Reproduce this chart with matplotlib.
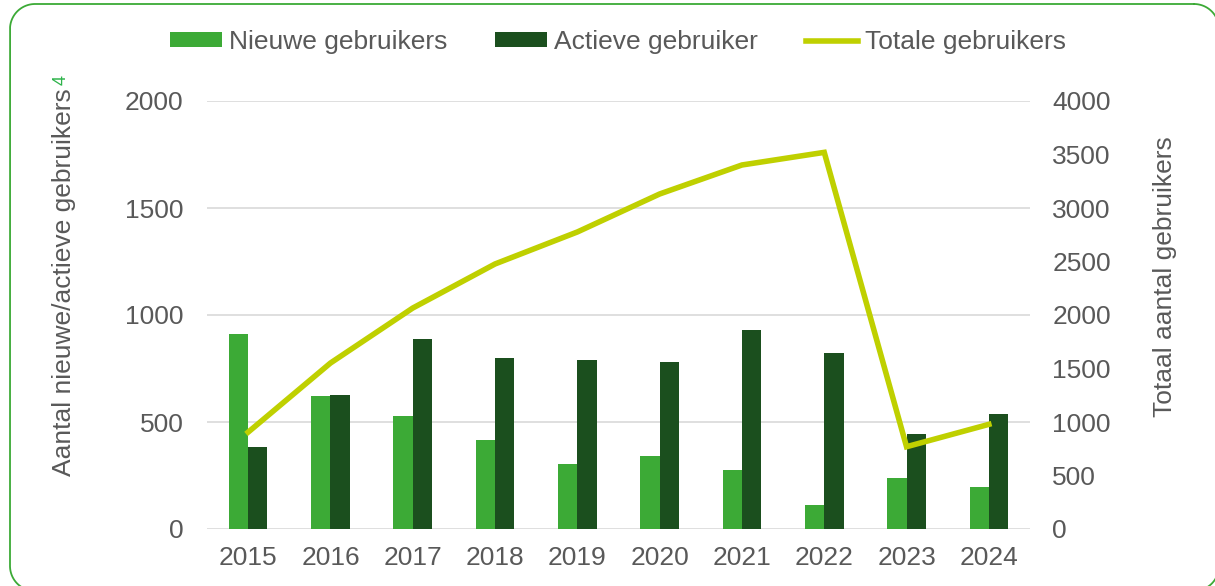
"""Nieuwe, actieve en totale gebruikers per jaar (2015-2024)."""

import matplotlib.pyplot as plt
import numpy as np

plt.rcParams["font.family"] = ["Liberation Sans", "DejaVu Sans"]

jaren = ["2015", "2016", "2017", "2018", "2019", "2020", "2021", "2022", "2023", "2024"]
nieuwe = [910, 623, 527, 414, 302, 343, 276, 112, 238, 195]
actieve = [383, 626, 888, 799, 791, 782, 930, 821, 442, 536]
totaal = [905, 1551, 2065, 2477, 2776, 3131, 3402, 3520, 769, 978]

licht_groen = "#3CAA36"
donker_groen = "#1B4F1E"
lijn_kleur = "#BFD000"
tekst = "#595959"
raster = "#D9D9D9"
fs = 19


def afgeronde_rechthoek(x0, y0, x1, y1, r, n=40):
    """Punten van een rechthoek met afgeronde hoeken (pixels, y naar beneden)."""
    hoeken = [
        (x1 - r, y0 + r, -np.pi / 2, 0),
        (x1 - r, y1 - r, 0, np.pi / 2),
        (x0 + r, y1 - r, np.pi / 2, np.pi),
        (x0 + r, y0 + r, np.pi, 1.5 * np.pi),
    ]
    xs, ys = [], []
    for cx, cy, a0, a1 in hoeken:
        t = np.linspace(a0, a1, n)
        xs.extend(cx + r * np.cos(t))
        ys.extend(cy + r * np.sin(t))
    xs.append(xs[0])
    ys.append(ys[0])
    return xs, ys


fig = plt.figure(figsize=(12.15, 5.86), dpi=100)

# afgeronde groene rand (rechts en onder iets buiten beeld)
bg = fig.add_axes([0, 0, 1, 1])
bg.set_xlim(0, 1215)
bg.set_ylim(586, 0)
bg.axis("off")
rx, ry = afgeronde_rechthoek(10, 4, 1219, 591, 25)
bg.plot(rx, ry, color="#3CAA36", lw=1.3, clip_on=False)

ax = fig.add_axes([207 / 1215, 1 - 529 / 586, 823 / 1215, 428 / 586])
x = np.arange(len(jaren))
w = 0.235
ax.bar(x - w / 2, nieuwe, w, color=licht_groen, label="Nieuwe gebruikers", zorder=3)
ax.bar(x + w / 2, actieve, w, color=donker_groen, label="Actieve gebruiker", zorder=3)
ax.set_xlim(-0.5, len(jaren) - 0.5)
ax.set_ylim(0, 2000)
ax.set_yticks(np.arange(0, 2001, 500))
ax.set_xticks(x, jaren)
ax.grid(axis="y", color=raster, lw=1.2, zorder=0)
for s in ax.spines.values():
    s.set_visible(False)
ax.tick_params(axis="y", length=0, pad=17, labelsize=fs, labelcolor=tekst)
ax.tick_params(axis="x", length=0, pad=12, labelsize=fs, labelcolor=tekst)

ax2 = ax.twinx()
ax2.plot(x, totaal, color=lijn_kleur, lw=4, label="Totale gebruikers",
         solid_joinstyle="miter", zorder=4)
ax2.set_ylim(0, 4000)
ax2.set_yticks(np.arange(0, 4001, 500))
for s in ax2.spines.values():
    s.set_visible(False)
ax2.tick_params(axis="y", length=0, pad=16, labelsize=fs, labelcolor=tekst)

# aslabels
fig.text(64 / 1215, 1 - 282 / 586, "Aantal nieuwe/actieve gebruikers",
         rotation=90, ha="center", va="center", fontsize=fs, color=tekst)
fig.text(61 / 1215, 1 - 80 / 586, "4", rotation=90, ha="center", va="center",
         fontsize=13, color="#2DB34A")
fig.text(1165 / 1215, 1 - 277 / 586, "Totaal aantal gebruikers",
         rotation=90, ha="center", va="center", fontsize=fs, color=tekst)

h1, l1 = ax.get_legend_handles_labels()
h2, l2 = ax2.get_legend_handles_labels()
fig.legend(
    h1 + h2, l1 + l2, loc="center", bbox_to_anchor=(618 / 1215, 1 - 42 / 586),
    ncol=3, frameon=False, fontsize=fs, labelcolor=tekst,
    handlelength=1.97, handleheight=0.5, handletextpad=0.26, columnspacing=1.82,
)

fig.savefig("out.png", dpi=100)
